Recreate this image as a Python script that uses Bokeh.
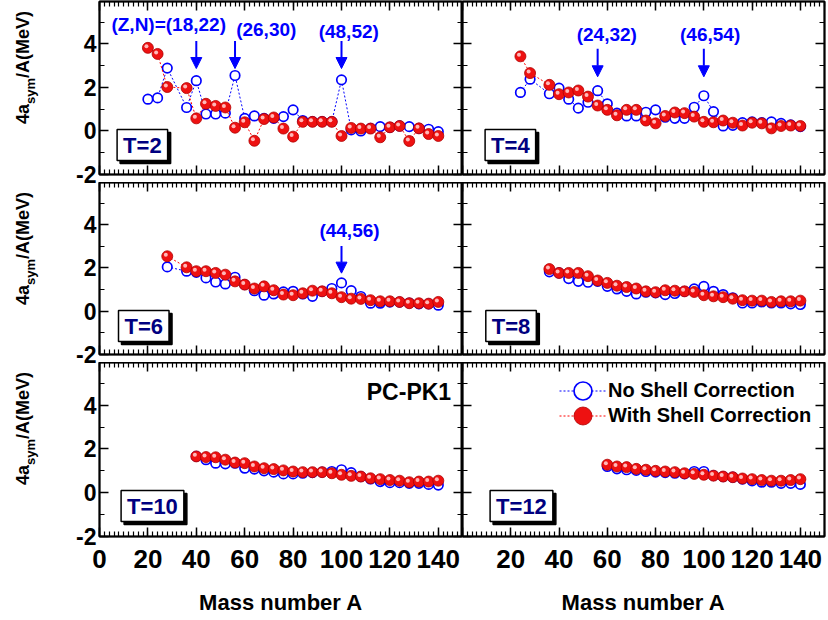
import math
from bokeh.plotting import figure
from bokeh.models import (Range1d, LinearAxis, SingleIntervalTicker, Label, Arrow, Div,
                          NormalHead, Legend, LegendItem, ColumnDataSource)
from bokeh.transform import dodge
from bokeh.layouts import column, row
from bokeh.embed import file_html
from bokeh.resources import INLINE

# ---------------- data ----------------
A_T2 = [20, 24, 28, 36, 40, 44, 48, 52, 56, 60, 64, 68, 72, 76, 80, 84, 88, 92, 96, 100,
        104, 108, 112, 116, 120, 124, 128, 132, 136, 140]
NO_T2 = [1.46, 1.52, 2.89, 1.08, 2.31, 0.78, 0.78, 0.82, 2.55, 0.58, 0.69, 0.58, 0.58, 0.66,
         0.97, 0.48, 0.43, 0.43, 0.43, 2.35, 0.05, 0.00, 0.12, 0.20, 0.17, 0.23, 0.20, 0.12,
         0.08, -0.03]
WI_T2 = [3.82, 3.54, 2.02, 1.97, 0.58, 1.25, 1.15, 1.08, 0.15, 0.40, -0.45, 0.55, 0.62, 0.11,
         -0.26, 0.42, 0.42, 0.42, 0.42, -0.23, 0.14, 0.11, 0.11, -0.29, 0.17, 0.23, -0.46,
         0.12, -0.14, -0.23]

A_T4 = [24, 28, 36, 40, 44, 48, 52, 56, 60, 64, 68, 72, 76, 80, 84, 88, 92, 96, 100,
        104, 108, 112, 116, 120, 124, 128, 132, 136, 140]
NO_T4 = [1.77, 2.38, 1.71, 1.97, 1.46, 1.05, 1.32, 1.85, 1.25, 0.82, 0.69, 0.69, 0.86, 0.97,
         0.63, 0.58, 0.58, 1.09, 1.62, 0.89, 0.23, 0.26, 0.38, 0.42, 0.38, 0.42, 0.35, 0.28,
         0.20]
WI_T4 = [3.43, 2.66, 2.12, 1.69, 1.77, 1.86, 1.58, 1.17, 0.97, 0.72, 0.97, 0.97, 0.48, 0.35,
         0.69, 0.85, 0.82, 0.66, 0.42, 0.40, 0.48, 0.38, 0.25, 0.38, 0.35, 0.12, 0.23, 0.25,
         0.23]

A_T6 = [28, 36, 40, 44, 48, 52, 56, 60, 64, 68, 72, 76, 80, 84, 88, 92, 96, 100,
        104, 108, 112, 116, 120, 124, 128, 132, 136, 140]
NO_T6 = [2.05, 1.85, 1.80, 1.54, 1.35, 1.26, 1.57, 1.23, 0.95, 0.74, 0.80, 0.89, 0.92, 0.80,
         0.69, 0.92, 1.05, 1.31, 0.95, 0.68, 0.37, 0.37, 0.42, 0.42, 0.38, 0.34, 0.34, 0.28]
WI_T6 = [2.54, 2.03, 1.85, 1.85, 1.77, 1.69, 1.38, 1.23, 1.05, 1.15, 0.97, 0.77, 0.74, 0.83,
         0.95, 0.92, 0.83, 0.65, 0.58, 0.57, 0.51, 0.46, 0.46, 0.43, 0.37, 0.37, 0.35, 0.43]

A_T8 = [36, 40, 44, 48, 52, 56, 60, 64, 68, 72, 76, 80, 84, 88, 92, 96, 100,
        104, 108, 112, 116, 120, 124, 128, 132, 136, 140]
NO_T8 = [1.82, 1.77, 1.51, 1.38, 1.34, 1.38, 1.15, 1.03, 0.92, 0.80, 0.88, 0.85, 0.77, 0.82,
         0.92, 1.03, 1.15, 0.92, 0.77, 0.62, 0.38, 0.38, 0.43, 0.38, 0.38, 0.34, 0.31]
WI_T8 = [1.95, 1.77, 1.77, 1.77, 1.62, 1.42, 1.31, 1.18, 1.12, 1.05, 0.92, 0.88, 0.97, 0.95,
         0.92, 0.89, 0.74, 0.69, 0.65, 0.58, 0.51, 0.49, 0.49, 0.43, 0.46, 0.46, 0.49]

A_T10 = [40, 44, 48, 52, 56, 60, 64, 68, 72, 76, 80, 84, 88, 92, 96, 100,
         104, 108, 112, 116, 120, 124, 128, 132, 136, 140]
NO_T10 = [1.66, 1.51, 1.35, 1.32, 1.35, 1.12, 1.08, 1.00, 0.94, 0.86, 0.86, 0.89, 0.92, 0.94,
          0.97, 1.05, 0.92, 0.74, 0.63, 0.51, 0.46, 0.46, 0.43, 0.43, 0.38, 0.35]
WI_T10 = [1.66, 1.63, 1.62, 1.51, 1.38, 1.35, 1.20, 1.12, 1.08, 1.02, 0.97, 0.94, 0.94, 0.94,
          0.89, 0.82, 0.77, 0.74, 0.66, 0.62, 0.58, 0.55, 0.48, 0.51, 0.51, 0.55]

A_T12 = [60, 64, 68, 72, 76, 80, 84, 88, 92, 96, 100,
         104, 108, 112, 116, 120, 124, 128, 132, 136, 140]
NO_T12 = [1.20, 1.09, 1.05, 1.02, 0.97, 0.94, 0.92, 0.89, 0.86, 0.97, 0.97, 0.78, 0.74, 0.71,
          0.62, 0.54, 0.48, 0.48, 0.43, 0.43, 0.38]
WI_T12 = [1.28, 1.20, 1.17, 1.09, 1.05, 1.00, 0.97, 0.94, 0.89, 0.86, 0.82, 0.78, 0.74, 0.71,
          0.65, 0.62, 0.58, 0.55, 0.55, 0.58, 0.62]

T_LABELS = ["T=2", "T=4", "T=6", "T=8", "T=10", "T=12"]
SERIES_NAMES = ["No Shell Correction", "With Shell Correction"]
X_TICK_STEP = 20
Y_TICK_STEP = 2

# shell-closure annotations: (text, x, y) and arrows (x, y_start, y_end)
ANN_T2 = [("(Z,N)=(18,22)", 28.6, 4.89), ("(26,30)", 68.9, 4.65), ("(48,52)", 103.0, 4.56)]
ARR_T2 = [(40, 4.13, 2.87), (56, 4.13, 2.87), (100, 4.13, 2.87)]
ANN_T4 = [("(24,32)", 59.8, 4.43), ("(46,54)", 102.6, 4.43)]
ARR_T4 = [(56, 3.78, 2.49), (100, 3.78, 2.49)]
ANN_T6 = [("(44,56)", 103.3, 3.73)]
ARR_T6 = [(100, 3.02, 1.76)]

FONT = "Liberation Sans"
XR = (0, 150)
YR = (-2, 5.95)
BLUE = "#0000ff"
LW = 50       # width of the y-title strip
OVER = 8      # vertical overlap between rows (lets "-2" labels spill into the gap)

# row geometry: (top border, frame height, bottom border)
ROWS = [(1, 173, 8 + OVER), (0, 172, 8 + OVER), (0, 174, 84)]


def ytitle(rw):
    bt, fh, bb = ROWS[rw]
    H = bt + fh + bb
    start = bt + 123  # px below the row top where the rotated title begins (reads upward)
    html = ('<div style="position:absolute; left:12px; top:%dpx; transform:rotate(-90deg); '
            'transform-origin:0 0; white-space:nowrap; font-family:\'Liberation Sans\', Arial, '
            'sans-serif; font-weight:bold; font-size:18px; line-height:23px; color:#000;">'
            '4a<span style="font-size:13px; position:relative; top:6px;">sym</span>'
            '/A(MeV)</div>' % start)
    return Div(text=html, width=LW, height=H, margin=0)


def build(col, rw, A, no, wi, tname, box_left, ann=(), arr=(), pcpk=False, legend=False):
    left = col == 0
    bottom = rw == 2
    bt, fh, bb = ROWS[rw]
    fw = 363 if left else 362
    bl = (99 - LW) if left else 0
    br = 0 if left else 4
    p = figure(width=bl + fw + br, height=bt + fh + bb,
               x_range=Range1d(*XR), y_range=Range1d(*YR),
               toolbar_location=None, output_backend="svg",
               x_axis_location=None, y_axis_location=None,
               min_border_left=bl, min_border_right=br,
               min_border_top=bt, min_border_bottom=bb,
               background_fill_color="white", border_fill_color=None)
    p.grid.visible = False
    p.outline_line_color = "black"
    p.outline_line_width = 2

    def xd(px):
        return XR[0] + px * (XR[1] - XR[0]) / fw

    def yd(px_top):
        return YR[1] - px_top * (YR[1] - YR[0]) / fh

    for loc in ["below", "above", "left", "right"]:
        is_x = loc in ("below", "above")
        if is_x:
            tk = SingleIntervalTicker(interval=X_TICK_STEP, num_minor_ticks=10)
        else:
            tk = SingleIntervalTicker(interval=Y_TICK_STEP, num_minor_ticks=2)
        ax = LinearAxis(ticker=tk)
        ax.axis_line_width = 1.5
        ax.axis_line_color = "black"
        ax.major_tick_in = 9
        ax.major_tick_out = 0
        ax.minor_tick_in = 5
        ax.minor_tick_out = 0
        ax.major_tick_line_width = 1.5
        ax.minor_tick_line_width = 1.2
        ax.major_tick_line_color = "black"
        ax.minor_tick_line_color = "black"
        has_labels = (loc == "below" and bottom) or (loc == "left" and left)
        if has_labels:
            ax.major_label_text_font = FONT
            ax.major_label_text_font_style = "bold"
            ax.major_label_text_color = "black"
            if is_x:
                ax.major_label_text_font_size = "26px"
                ax.major_label_standoff = 13
                ax.axis_label = "Mass number A"
                ax.axis_label_text_font = FONT
                ax.axis_label_text_font_style = "bold"
                ax.axis_label_text_font_size = "22px"
                ax.axis_label_text_color = "black"
                ax.axis_label_standoff = 19
                if not left:
                    ax.major_label_overrides = {0: ""}
            else:
                ax.major_label_text_font_size = "23px"
                ax.major_label_standoff = 3
                ax.major_label_overrides = {-2: "-2"}
        else:
            ax.major_label_text_font_size = "0px"
            ax.major_label_text_color = None
            ax.major_label_standoff = 0
        p.add_layout(ax, loc)

    src = ColumnDataSource(dict(A=A, no=no, wi=wi))
    l1 = p.line("A", "no", source=src, line_color=BLUE, line_width=1, line_dash="2 2")
    s1 = p.scatter("A", "no", source=src, size=9.5, fill_color="white",
                   line_color=BLUE, line_width=1.7)
    l2 = p.line("A", "wi", source=src, line_color="red", line_width=1, line_dash="2 2")
    s2 = p.scatter("A", "wi", source=src, size=11, fill_color="#ee1111",
                   line_color="#b00000", line_width=0.8)
    p.scatter(x=dodge("A", -0.6), y=dodge("wi", 0.07), source=src, size=4,
              fill_color="#ffb8b8", line_color=None)

    # T label box with shadow
    padx, pady = 6, 3
    for off, tc, bg in [(3, "black", "black"), (0, "#000080", "white")]:
        p.add_layout(Label(x=xd(box_left + padx), y=yd(159), x_offset=off, y_offset=-off,
                           text=tname, text_font=FONT, text_font_style="bold",
                           text_font_size="22px", text_color=tc,
                           text_align="left", text_baseline="bottom",
                           background_fill_color=bg, border_line_color="black",
                           border_line_width=1.5, padding=(padx, pady)))

    for txt, x, y in ann:
        p.add_layout(Label(x=x, y=y, text=txt, text_font=FONT, text_font_style="bold",
                           text_font_size="19px", text_color=BLUE,
                           text_align="center", text_baseline="middle"))
    for x, y0, y1 in arr:
        p.add_layout(Arrow(end=NormalHead(size=11, fill_color=BLUE, line_color=BLUE),
                           x_start=x, y_start=y0, x_end=x, y_end=y1,
                           line_color=BLUE, line_width=2))

    if pcpk:
        p.add_layout(Label(x=145.3, y=yd(29.7), text="PC-PK1", text_font=FONT,
                           text_font_style="bold", text_font_size="23px", text_color="black",
                           text_align="right", text_baseline="middle"))

    if legend:
        for i, (lab, rs) in enumerate([(SERIES_NAMES[0], [l1, s1]), (SERIES_NAMES[1], [l2, s2])]):
            cy = fh - (28 + 25 * i)
            lg = Legend(items=[LegendItem(label=lab, renderers=rs)],
                        location=(97, int(cy - 22.5)), glyph_width=47, glyph_height=45,
                        label_standoff=2, padding=0, margin=0, spacing=0,
                        background_fill_alpha=0, border_line_alpha=0,
                        label_text_font=FONT, label_text_font_style="bold",
                        label_text_font_size="20px", label_text_color="black")
            p.add_layout(lg)
    return p


p1 = build(0, 0, A_T2, NO_T2, WI_T2, T_LABELS[0], 11.6, ANN_T2, ARR_T2)
p2 = build(1, 0, A_T4, NO_T4, WI_T4, T_LABELS[1], 16.6, ANN_T4, ARR_T4)
p3 = build(0, 1, A_T6, NO_T6, WI_T6, T_LABELS[2], 13.0, ANN_T6, ARR_T6)
p4 = build(1, 1, A_T8, NO_T8, WI_T8, T_LABELS[3], 17.3)
p5 = build(0, 2, A_T10, NO_T10, WI_T10, T_LABELS[4], 15.6, pcpk=True)
p6 = build(1, 2, A_T12, NO_T12, WI_T12, T_LABELS[5], 21.6, legend=True)

r1 = row(ytitle(0), p1, p2, margin=(0, 0, -OVER, 0))
r2 = row(ytitle(1), p3, p4, margin=(0, 0, -OVER, 0))
r3 = row(ytitle(2), p5, p6)
layout = column(r1, r2, r3)
open("out.html", "w").write(file_html(layout, INLINE))
